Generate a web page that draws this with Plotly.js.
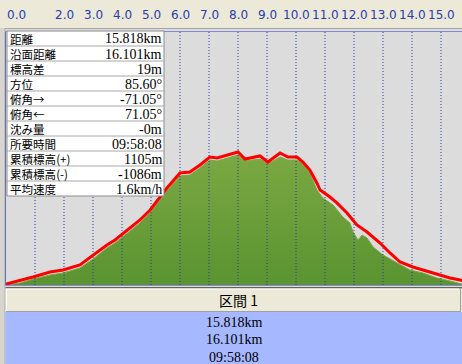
<!DOCTYPE html>
<html><head><meta charset="utf-8">
<script src="https://cdn.plot.ly/plotly-3.0.1.min.js"></script>
<style>html,body{margin:0;padding:0;background:#ECE9D8;}#chart{width:462px;height:364px;}</style>
</head><body><div id="chart"></div>
<script>
// GPS track elevation (red line): distance km, elevation m
const trackDist = [0.00,0.14,0.48,0.93,1.52,1.97,2.55,3.00,3.48,3.76,3.93,4.28,4.62,4.97,5.31,5.55,6.00,6.34,6.69,7.03,7.28,7.62,8.00,8.24,8.76,9.03,9.45,9.72,10.03,10.24,10.48,10.72,10.83,11.17,11.41,11.76,12.10,12.45,12.90,13.24,13.59,14.03,14.62,14.97,15.31,15.66,15.79];
const trackElev = [408,417,434,467,509,526,568,652,736,778,812,879,946,1030,1139,1215,1341,1349,1408,1475,1467,1492,1517,1458,1484,1433,1509,1475,1475,1433,1366,1257,1198,1139,1089,1005,904,845,753,669,593,551,509,484,459,442,434];
// Ground elevation profile (green fill)
const groundDist = [0.00,0.48,0.93,1.52,1.97,2.55,3.00,3.48,3.76,4.28,4.62,4.97,5.31,5.55,6.00,6.34,6.69,7.03,7.28,7.62,8.00,8.24,8.76,9.03,9.45,9.72,10.03,10.24,10.48,10.72,10.93,11.28,11.62,11.86,11.97,12.14,12.28,12.45,12.66,13.00,13.48,13.93,14.38,14.86,15.31,15.72];
const groundElev = [400,417,450,484,501,543,618,711,753,854,921,1005,1114,1190,1316,1324,1383,1450,1442,1467,1492,1442,1458,1416,1475,1450,1450,1416,1341,1198,1131,1072,971,921,845,778,820,795,719,652,585,526,501,459,434,408];
// Distance grid / tick labels
const gridKm = [1,2,3,4,5,6,7,8,9,10,11,12,13,14,15];
const tickKm = [0,2,3,4,5,6,7,8,9,10,11,12,13,14,15];
const tickText = ["0.0","2.0","3.0","4.0","5.0","6.0","7.0","8.0","9.0","10.0","11.0","12.0","13.0","14.0","15.0"];
// Info table
const infoLabels = ["距離","沿面距離","標高差","方位","俯角→","俯角←","沈み量","所要時間","累積標高(+)","累積標高(-)","平均速度"];
const infoValues = ["15.818km","16.101km","19m","85.60°","-71.05°","71.05°","-0m","09:58:08","1105m","-1086m","1.6km/h"];
// Section panel
const sectionTitle = "区間 1";
const sectionValues = ["15.818km","16.101km","09:58:08"];

const X_RANGE = [0, 15.724];
const Y_RANGE = [400, 2525.2];

// pixel -> paper helpers for layout decoration
const L = 6, T = 32, W = 456, H = 253, B = T + H;
const px = X => (X - L) / W;
const py = Y => (B - Y) / H;

const gx = [], gy = [];
gridKm.forEach(k => { gx.push(k, k, null); gy.push(Y_RANGE[0], Y_RANGE[1], null); });

const traces = [
  {x: groundDist, y: groundElev, type: 'scatter', mode: 'lines', fill: 'tozeroy',
   line: {color: '#7DA845', width: 1},
   fillcolor: '#68993A',
   fillgradient: {type: 'vertical', colorscale: [[0, '#4E8C2A'], [1, '#7BA842']]},
   hoverinfo: 'skip'},
  {x: gx, y: gy, type: 'scatter', mode: 'lines',
   line: {color: '#2A3AA8', width: 1, dash: '1px,2px'}, hoverinfo: 'skip', connectgaps: false},
  {x: trackDist, y: trackElev, type: 'scatter', mode: 'lines',
   line: {color: '#FF0000', width: 3}, hoverinfo: 'skip'}
];

const shapes = [];
const annotations = [];
const rect = (x0, y0, x1, y1, fill, line, lw) => shapes.push({type: 'rect', xref: 'paper', yref: 'paper',
  x0: px(x0), x1: px(x1), y0: py(y1), y1: py(y0), fillcolor: fill, line: {color: line || fill, width: lw || 0}, layer: 'above'});
const hline = (x0, x1, Y, color) => shapes.push({type: 'line', xref: 'paper', yref: 'paper',
  x0: px(x0), x1: px(x1), y0: py(Y), y1: py(Y), line: {color: color, width: 1}, layer: 'above'});
const vline = (X, y0, y1, color) => shapes.push({type: 'line', xref: 'paper', yref: 'paper',
  x0: px(X), x1: px(X), y0: py(y0), y1: py(y1), line: {color: color, width: 1}, layer: 'above'});

// top band between strip and plot
rect(0, 28, 462, 31.5, '#DCDCDC');
hline(0, 462, 28.5, '#A6A6A6');
// left strip
rect(0, 28, 5, 364, '#D8D5CF');
vline(5, 28, 364, '#A8A8A8');
// gap under plot
rect(5.5, 285.5, 462, 287.5, '#DCDCDC');
// header
rect(5.5, 288, 462, 312, '#ECE9D8');
hline(5.5, 462, 287.8, '#303030');
hline(6, 459, 289, '#FFFFFF');
vline(6.5, 289, 311, '#FFFFFF');
hline(6, 461, 311.5, '#A0A0A0');
vline(460.5, 289, 312, '#A0A0A0');
// blue panel
rect(5.5, 312, 462, 364, '#A6B8FF');

// info table
const rowH = 15, tTop = 31, tLeft = 7, tRight = 164;
const nRows = infoLabels.length;
rect(tLeft, tTop, tRight, tTop + rowH * nRows, '#FFFFFF', '#8C8C8C', 1);
infoLabels.forEach((lab, i) => {
  if (i > 0) hline(tLeft, tRight, tTop + rowH * i, '#A8A8A8');
  const yc = py(tTop + rowH * i + rowH / 2 + 0.5);
  annotations.push({xref: 'paper', yref: 'paper', x: px(tRight - 1.5), y: yc, xanchor: 'right', yanchor: 'middle',
    borderpad: 0,
    text: infoValues[i], showarrow: false, font: {family: 'Liberation Serif', size: 14, color: '#000000'}});
});
// label column as one multi-line block (line pitch 1.3 * 11.5 = 15px = row height)
annotations.push({xref: 'paper', yref: 'paper', x: px(tLeft + 2), y: py(tTop + rowH * nRows / 2 + 0.5),
  xanchor: 'left', yanchor: 'middle', align: 'left', borderpad: 0,
  text: infoLabels.join('<br>'), showarrow: false,
  font: {family: 'Noto Sans CJK JP', size: 11.54, color: '#000000'}});

// top tick labels
tickKm.forEach((k, i) => {
  annotations.push({xref: 'x', yref: 'paper', x: k, y: py(15.5), xanchor: 'center', yanchor: 'middle',
    xshift: i === 0 ? 10.5 : 0,
    text: tickText[i], showarrow: false, font: {family: 'DejaVu Sans', size: 12, color: '#2A3CAE'}});
});

// section panel texts
annotations.push({xref: 'paper', yref: 'paper', x: px(238), y: py(300), xanchor: 'center', yanchor: 'middle',
  text: sectionTitle, showarrow: false, font: {family: 'Noto Sans CJK JP', size: 14, color: '#000000'}});
sectionValues.forEach((v, i) => {
  annotations.push({xref: 'paper', yref: 'paper', x: px(234), y: py(322 + 17.5 * i), xanchor: 'center', yanchor: 'middle',
    borderpad: 0,
    text: v, showarrow: false, font: {family: 'Liberation Serif', size: 14, color: '#000000'}});
});

const layout = {
  width: 462, height: 364,
  margin: {l: L, r: 0, t: T, b: 364 - B, pad: 0},
  paper_bgcolor: '#ECE9D8', plot_bgcolor: '#DCDCDC',
  showlegend: false,
  xaxis: {range: X_RANGE, showgrid: false, zeroline: false, showticklabels: false, ticks: '',
          showline: true, mirror: true, linecolor: '#2B3CCB', linewidth: 1, fixedrange: true},
  yaxis: {range: Y_RANGE, showgrid: false, zeroline: false, showticklabels: false, ticks: '',
          showline: true, linecolor: '#2B3CCB', linewidth: 1, fixedrange: true},
  shapes: shapes, annotations: annotations
};

Plotly.newPlot('chart', traces, layout, {displayModeBar: false, staticPlot: true});
</script></body></html>
